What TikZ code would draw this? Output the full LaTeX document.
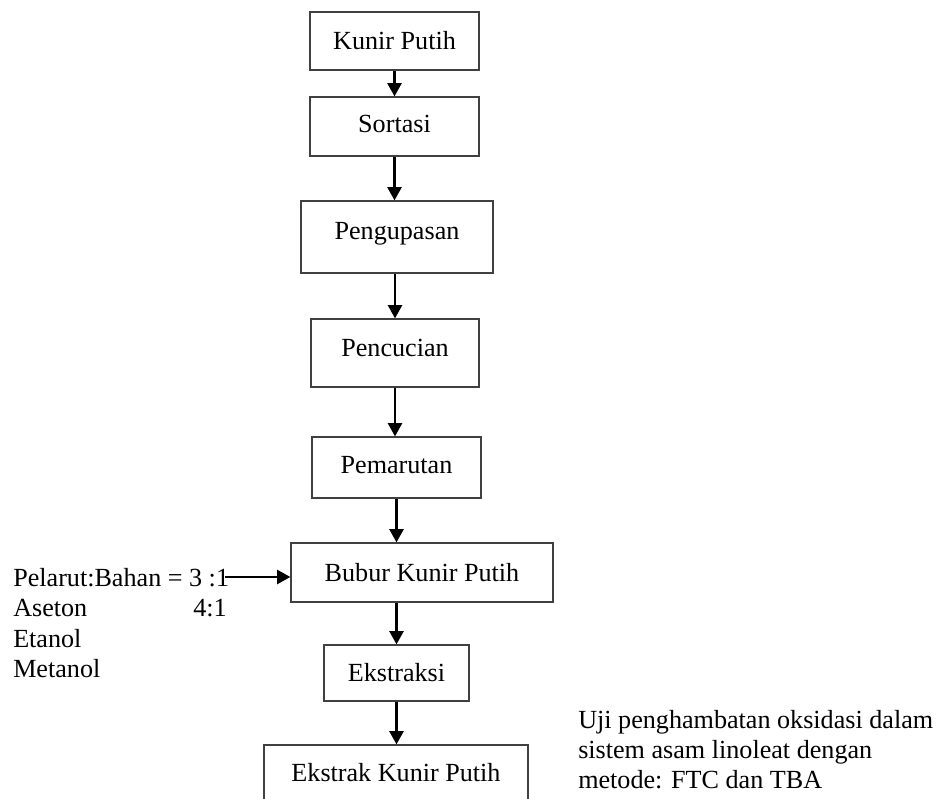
\documentclass[tikz,border=0pt]{standalone}
\usepackage{fontspec}
\setmainfont{Liberation Serif}
\usetikzlibrary{arrows.meta}
\begin{document}
\begin{tikzpicture}[x=0.75pt,y=-0.75pt,
  box/.style={draw=black!75, line width=0.9pt, rectangle, inner sep=0pt, text height=13pt, text depth=0pt},
  txt/.style={inner sep=0pt},
  arr/.style={line width=2pt, -{Triangle[length=10pt,width=10.5pt]}},
  font=\fontsize{19.6}{23}\selectfont]
\useasboundingbox (0,0) rectangle (942,799);
\clip (0,0) rectangle (942,799);
\node[box, minimum width=169*0.75pt, minimum height=58*0.75pt] (b1) at (394.5,41) {Kunir Putih};
\node[box, minimum width=169*0.75pt, minimum height=59*0.75pt, text depth=3.75pt] (b2) at (394.5,126.5) {Sortasi};
\node[box, minimum width=192*0.75pt, minimum height=72*0.75pt, text depth=9.8pt] (b3) at (397,237) {Pengupasan};
\node[box, minimum width=168*0.75pt, minimum height=68*0.75pt, text depth=7.5pt] (b4) at (395,353) {Pencucian};
\node[box, minimum width=169*0.75pt, minimum height=61*0.75pt, text depth=3.75pt] (b5) at (396.5,467.5) {Pemarutan};
\node[box, minimum width=262*0.75pt, minimum height=59*0.75pt] (b6) at (422,572.5) {Bubur Kunir Putih};
\node[box, minimum width=145*0.75pt, minimum height=56*0.75pt] (b7) at (396.5,673) {Ekstraksi};
\node[box, minimum width=264*0.75pt, minimum height=60*0.75pt, text depth=3.75pt] (b8) at (396,775) {Ekstrak Kunir Putih};

\node[txt, anchor=base west] (pel) at (13,586) {Pelarut:Bahan = 3 :1};
\node[txt, anchor=base west] (ase) at (13,616.5) {Aseton};
\node[txt, anchor=base east] (rat) at (227,616.5) {4:1};
\node[txt, anchor=base west] (eta) at (13,647) {Etanol};
\node[txt, anchor=base west] (met) at (13,677.5) {Metanol};

\node[txt, anchor=base west] (u1) at (578,728) {Uji penghambatan oksidasi dalam};
\node[txt, anchor=base west] (u2) at (578,758) {sistem asam linoleat dengan};
\node[txt, anchor=base west] (u3) at (578,788) {metode: FTC dan TBA};

\draw[arr] (b1.south) -- (b1.south |- b2.north);
\draw[arr] (b2.south) -- (b2.south |- b3.north);
\draw[arr] (b4.north |- b3.south) -- (b4.north);
\draw[arr] (b4.south) -- (b4.south |- b5.north);
\draw[arr] (b5.south) -- (b5.south |- b6.north);
\draw[arr] (b7.north |- b6.south) -- (b7.north);
\draw[arr] (b7.south) -- (b7.south |- b8.north);
\coordinate (pe) at ([yshift=9*0.75pt]pel.base east);
\draw[arr] ([xshift=-4*0.75pt]pe) -- (pe -| b6.west);
\end{tikzpicture}
\end{document}
